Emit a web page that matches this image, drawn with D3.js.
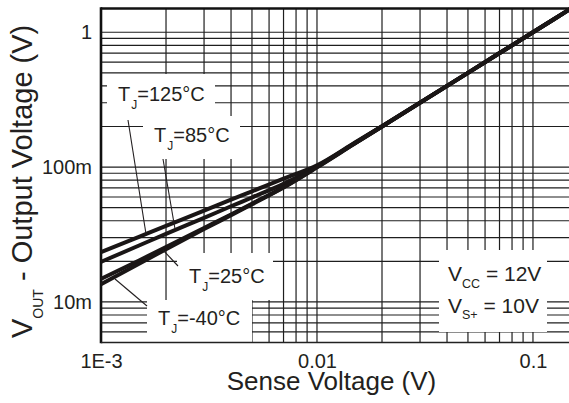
<!DOCTYPE html>
<html><head><meta charset="utf-8">
<script src="https://cdn.jsdelivr.net/npm/d3@7"></script>
<style>
html,body{margin:0;padding:0;background:#fff;}
svg{display:block;font-family:"Liberation Sans",Arial,sans-serif;}
</style></head>
<body><svg id="c" width="569" height="403"></svg>
<script>
// ---- data ----
const senseV = [0.001, 0.0015, 0.002, 0.003, 0.004, 0.005, 0.007, 0.01, 0.015, 0.02, 0.05, 0.1, 0.15];
const vout125 = [0.0234, 0.0304, 0.0366, 0.0475, 0.0573, 0.0661, 0.082, 0.103, 0.152, 0.201, 0.5, 1.0, 1.5];
const vout85  = [0.0198, 0.0262, 0.0320, 0.0420, 0.0512, 0.0595, 0.0750, 0.101, 0.151, 0.2, 0.5, 1.0, 1.5];
const vout25  = [0.0148, 0.0203, 0.0255, 0.0353, 0.0445, 0.0535, 0.071, 0.100, 0.15, 0.2, 0.5, 1.0, 1.5];
const voutM40 = [0.0135, 0.0192, 0.0246, 0.0347, 0.0440, 0.0530, 0.0705, 0.0995, 0.15, 0.2, 0.5, 1.0, 1.5];
const xTickVals = [0.001, 0.01, 0.1];
const xTickLabels = ["1E-3", "0.01", "0.1"];
const yTickVals = [0.01, 0.1, 1];
const yTickLabels = ["10m", "100m", "1"];
const series = [vout125, vout85, vout25, voutM40];

// ---- layout ----
const L = 101, R = 571, T = 8.5, B = 342.5;
const svg = d3.select("#c");
const x = d3.scaleLog().domain([0.001, 0.15]).range([L, R]);
const y = d3.scaleLog().domain([0.005, 1.5]).range([B, T]);
const ink = "#231f20";

// grid
const g = svg.append("g");
g.selectAll("line.v").data(x.ticks().filter(d => d > 0.001 * 1.0001 && d <= 0.1 * 1.0001))
 .join("line").attr("x1", d => x(d)).attr("x2", d => x(d)).attr("y1", T).attr("y2", B)
 .attr("stroke", "#1e1e1e").attr("stroke-width", 1.2);
g.selectAll("line.h").data(y.ticks().filter(d => d > 0.005 * 1.0001))
 .join("line").attr("y1", d => y(d)).attr("y2", d => y(d)).attr("x1", L).attr("x2", 569)
 .attr("stroke", "#1e1e1e").attr("stroke-width", 1.2);

// white label boxes
const boxes = [[107,74,215,116],[143,116,240,159],[177,253,273,300],[147,300,252,342],[439,250,547,332]];
svg.append("g").selectAll("rect").data(boxes).join("rect")
 .attr("x", d => d[0]).attr("y", d => d[1]).attr("width", d => d[2]-d[0]).attr("height", d => d[3]-d[1])
 .attr("fill", "#fff");

// borders
svg.append("line").attr("x1", L).attr("x2", L).attr("y1", T-1.2).attr("y2", B+0.8).attr("stroke", "#111").attr("stroke-width", 2.6);
svg.append("line").attr("x1", L).attr("x2", 569).attr("y1", T).attr("y2", T).attr("stroke", "#111").attr("stroke-width", 2.6);
svg.append("line").attr("x1", L).attr("x2", 569).attr("y1", B).attr("y2", B).attr("stroke", "#222").attr("stroke-width", 1.6);

// curves
const line = d3.line().x((d, i) => x(senseV[i])).y(d => y(d)).curve(d3.curveMonotoneX);
svg.append("g").selectAll("path").data(series).join("path")
 .attr("d", d => line(d)).attr("fill", "none").attr("stroke", "#1a1616").attr("stroke-width", 4)
 .attr("stroke-linejoin", "round");

// leaders
const leaders = [[128,120,146,234],[163,159,175,229],[178,266,163,250],[147,306,115,279]];
svg.append("g").selectAll("line").data(leaders).join("line")
 .attr("x1", d => d[0]).attr("y1", d => d[1]).attr("x2", d => d[2]).attr("y2", d => d[3])
 .attr("stroke", ink).attr("stroke-width", 1.1);

// axes tick labels
const xa = svg.append("g").attr("transform", `translate(0,${B})`)
 .call(d3.axisBottom(x).tickValues(xTickVals).tickFormat((d, i) => xTickLabels[i]).tickSize(0));
xa.select(".domain").remove();
xa.selectAll("text").attr("y", 25.5).attr("dy", 0).attr("font-size", 20).attr("fill", ink).attr("font-family", "Liberation Sans, Arial, sans-serif");
const ya = svg.append("g").attr("transform", `translate(${L},0)`)
 .call(d3.axisLeft(y).tickValues(yTickVals).tickFormat((d, i) => yTickLabels[i]).tickSize(0));
ya.select(".domain").remove();
ya.selectAll("text").attr("x", -9).attr("dy", "0.32em").attr("font-size", 20).attr("fill", ink).attr("font-family", "Liberation Sans, Arial, sans-serif");

// axis titles
svg.append("text").attr("x", 331.5).attr("y", 390).attr("text-anchor", "middle")
 .attr("font-size", 26).attr("fill", ink).text("Sense Voltage (V)");
const yt = svg.append("text").attr("transform", "translate(32,338) rotate(-90)").attr("font-size", 29).attr("fill", ink);
yt.append("tspan").text("V");
yt.append("tspan").attr("font-size", 14).attr("dy", 11).text("OUT");
yt.append("tspan").attr("dy", -11).text(" - Output Voltage (V)");

// temperature labels
const tLabels = [["125°C",118,100.7],["85°C",154,141.7],["25°C",189,282.7],["-40°C",158,325]];
tLabels.forEach(([t, px, py]) => {
  const tx = svg.append("text").attr("x", px).attr("y", py).attr("font-size", 20).attr("fill", ink);
  tx.append("tspan").text("T");
  tx.append("tspan").attr("font-size", 12).attr("dy", 8).attr("dx", 1).text("J");
  tx.append("tspan").attr("dy", -8).text("=" + t);
});
// conditions
const cond = [["V","CC"," = 12V",448,281],["V","S+"," = 10V",448,312.7]];
cond.forEach(([a, s, b, px, py]) => {
  const tx = svg.append("text").attr("x", px).attr("y", py).attr("font-size", 21).attr("fill", ink);
  tx.append("tspan").text(a);
  tx.append("tspan").attr("font-size", 12.5).attr("dy", 6.5).text(s);
  tx.append("tspan").attr("dy", -6.5).text(b);
});
</script></body></html>
